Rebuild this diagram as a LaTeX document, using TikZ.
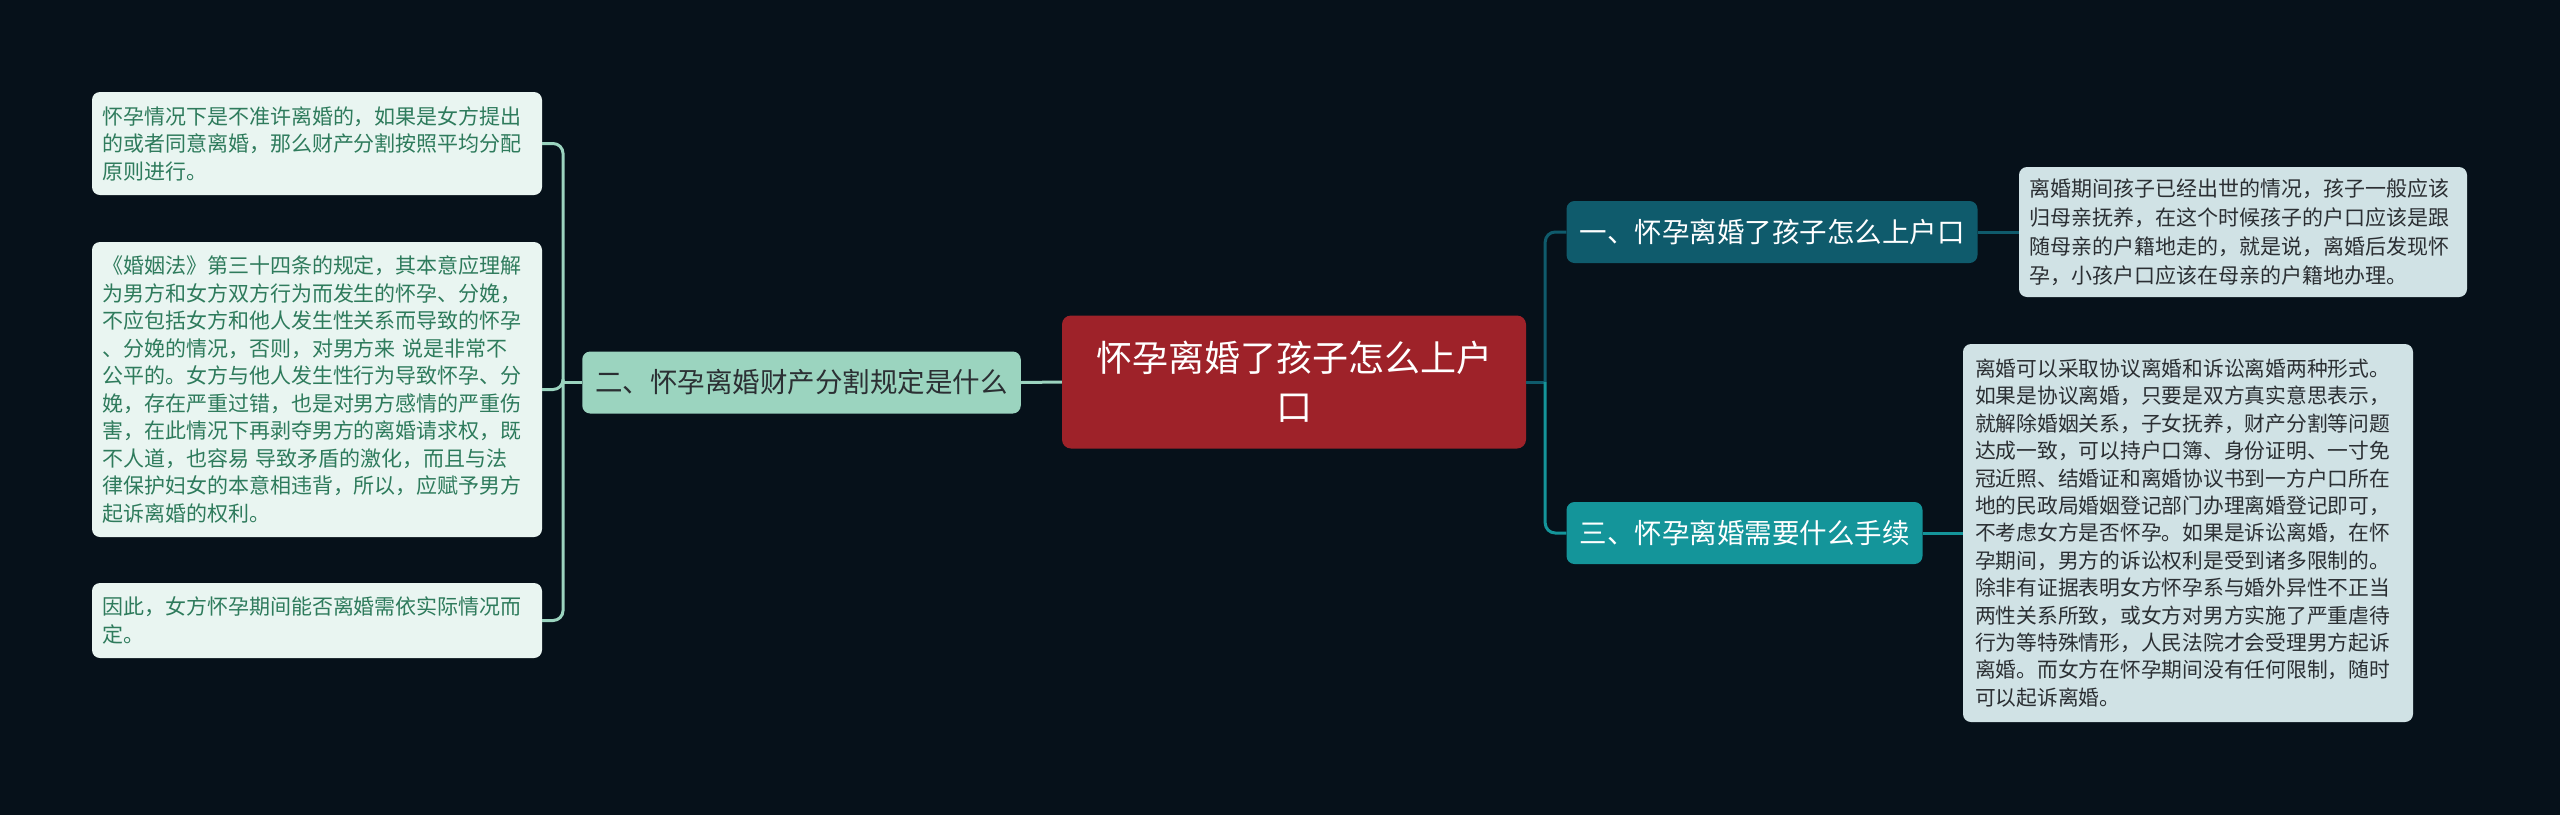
\documentclass[tikz,border=0pt]{standalone}
\usepackage{fontspec}
\usepackage{tikz}
\newfontfamily\cjk{Noto Sans CJK SC}

\definecolor{bgdark}{HTML}{06111A}
\definecolor{rootred}{HTML}{9E2229}
\definecolor{mint}{HTML}{9BD4BF}
\definecolor{petrol}{HTML}{0F5B6C}
\definecolor{teal}{HTML}{14959A}
\definecolor{paleleaf}{HTML}{E9F5F1}
\definecolor{leafgreen}{HTML}{2E7B5C}
\definecolor{paleblue}{HTML}{D0E2E5}
\definecolor{inkgray}{HTML}{2B2F33}

\tikzstyle{root}=[
	rectangle,
	rounded corners=9pt,
	fill=rootred,
	text=white,
	minimum width=464pt,
	minimum height=133pt,
	align=center,
	font=\cjk\fontsize{36pt}{49pt}\selectfont
]
\tikzstyle{topic}=[
	rectangle,
	rounded corners=8pt,
	minimum height=62pt,
	inner xsep=13pt,
	font=\cjk\fontsize{27.5pt}{33pt}\selectfont
]
\tikzstyle{leaf}=[
	rectangle,
	rounded corners=8pt,
	align=left,
	inner xsep=10pt,
	font=\cjk\fontsize{21pt}{27.5pt}\selectfont
]
\tikzstyle{link}=[line width=3pt, rounded corners=10pt]

\begin{document}
\begin{tikzpicture}[x=1pt,y=-1pt]

% Background
\fill[bgdark] (0,0) rectangle (2560,815);
\useasboundingbox (0,0) rectangle (2560,815);

% Root
\node[root] (root) at (1294,382){怀孕离婚了孩子怎么上户\\口};

% Topic 1
\node[topic,fill=petrol,text=white] (t1) at (1772,232){一、怀孕离婚了孩子怎么上户口};

% Topic 2
\node[topic,fill=mint,text=inkgray] (t2) at (801.5,382.5){二、怀孕离婚财产分割规定是什么};

% Topic 3
\node[topic,fill=teal,text=white] (t3) at (1744.5,533){三、怀孕离婚需要什么手续};

% Leaf under topic 1
\node[leaf,fill=paleblue,text=inkgray,text width=428pt,minimum height=130pt,
	font=\cjk\fontsize{21pt}{29pt}\selectfont] (l1) at (2243,232){%
离婚期间孩子已经出世的情况，孩子一般应该\\
归母亲抚养，在这个时候孩子的户口应该是跟\\
随母亲的户籍地走的，就是说，离婚后发现怀\\
孕，小孩户口应该在母亲的户籍地办理。};

% Leaves under topic 2
\node[leaf,fill=paleleaf,text=leafgreen,text width=430pt,minimum height=103pt] (la) at (317,143.5){%
怀孕情况下是不准许离婚的，如果是女方提出\\
的或者同意离婚，那么财产分割按照平均分配\\
原则进行。};

\node[leaf,fill=paleleaf,text=leafgreen,text width=430pt,minimum height=295pt] (lb) at (317,389.5){%
《婚姻法》第三十四条的规定，其本意应理解\\
为男方和女方双方行为而发生的怀孕、分娩，\\
不应包括女方和他人发生性关系而导致的怀孕\\
、分娩的情况，否则，对男方来 说是非常不\\
公平的。女方与他人发生性行为导致怀孕、分\\
娩，存在严重过错，也是对男方感情的严重伤\\
害，在此情况下再剥夺男方的离婚请求权，既\\
不人道，也容易 导致矛盾的激化，而且与法\\
律保护妇女的本意相违背，所以，应赋予男方\\
起诉离婚的权利。};

\node[leaf,fill=paleleaf,text=leafgreen,text width=430pt,minimum height=75pt] (lc) at (317,620.5){%
因此，女方怀孕期间能否离婚需依实际情况而\\
定。};

% Leaf under topic 3
\node[leaf,fill=paleblue,text=inkgray,text width=426pt,inner xsep=12pt,minimum height=378pt,
	font=\cjk\fontsize{20.75pt}{27.4pt}\selectfont] (l3) at (2188,533){%
离婚可以采取协议离婚和诉讼离婚两种形式。\\
如果是协议离婚，只要是双方真实意思表示，\\
就解除婚姻关系，子女抚养，财产分割等问题\\
达成一致，可以持户口簿、身份证明、一寸免\\
冠近照、结婚证和离婚协议书到一方户口所在\\
地的民政局婚姻登记部门办理离婚登记即可，\\
不考虑女方是否怀孕。如果是诉讼离婚，在怀\\
孕期间，男方的诉讼权利是受到诸多限制的。\\
除非有证据表明女方怀孕系与婚外异性不正当\\
两性关系所致，或女方对男方实施了严重虐待\\
行为等特殊情形，人民法院才会受理男方起诉\\
离婚。而女方在怀孕期间没有任何限制，随时\\
可以起诉离婚。};

% Junctions
\coordinate (rj) at ([xshift=19pt]root.east);
\coordinate (lj) at ([xshift=-19pt]t2.west);

% Root to topics on the right
\draw[link,petrol] (root.east) -- (rj);
\draw[link,petrol] (rj) |- (t1.west);
\draw[link,teal] (rj) |- (t3.west);

% Root to topic 2
\draw[link,mint] (root.west) -- (t2.east);

% Topic 2 to its leaves
\draw[link,mint] (t2.west) -- (lj);
\draw[link,mint] (lj) |- (la.east);
\draw[link,mint] (lj) |- (lb.east);
\draw[link,mint] (lj) |- (lc.east);

% Topics to leaves on the right
\draw[link,petrol] (t1.east) -- (l1.west);
\draw[link,teal] (t3.east) -- (l3.west);

\end{tikzpicture}
\end{document}
